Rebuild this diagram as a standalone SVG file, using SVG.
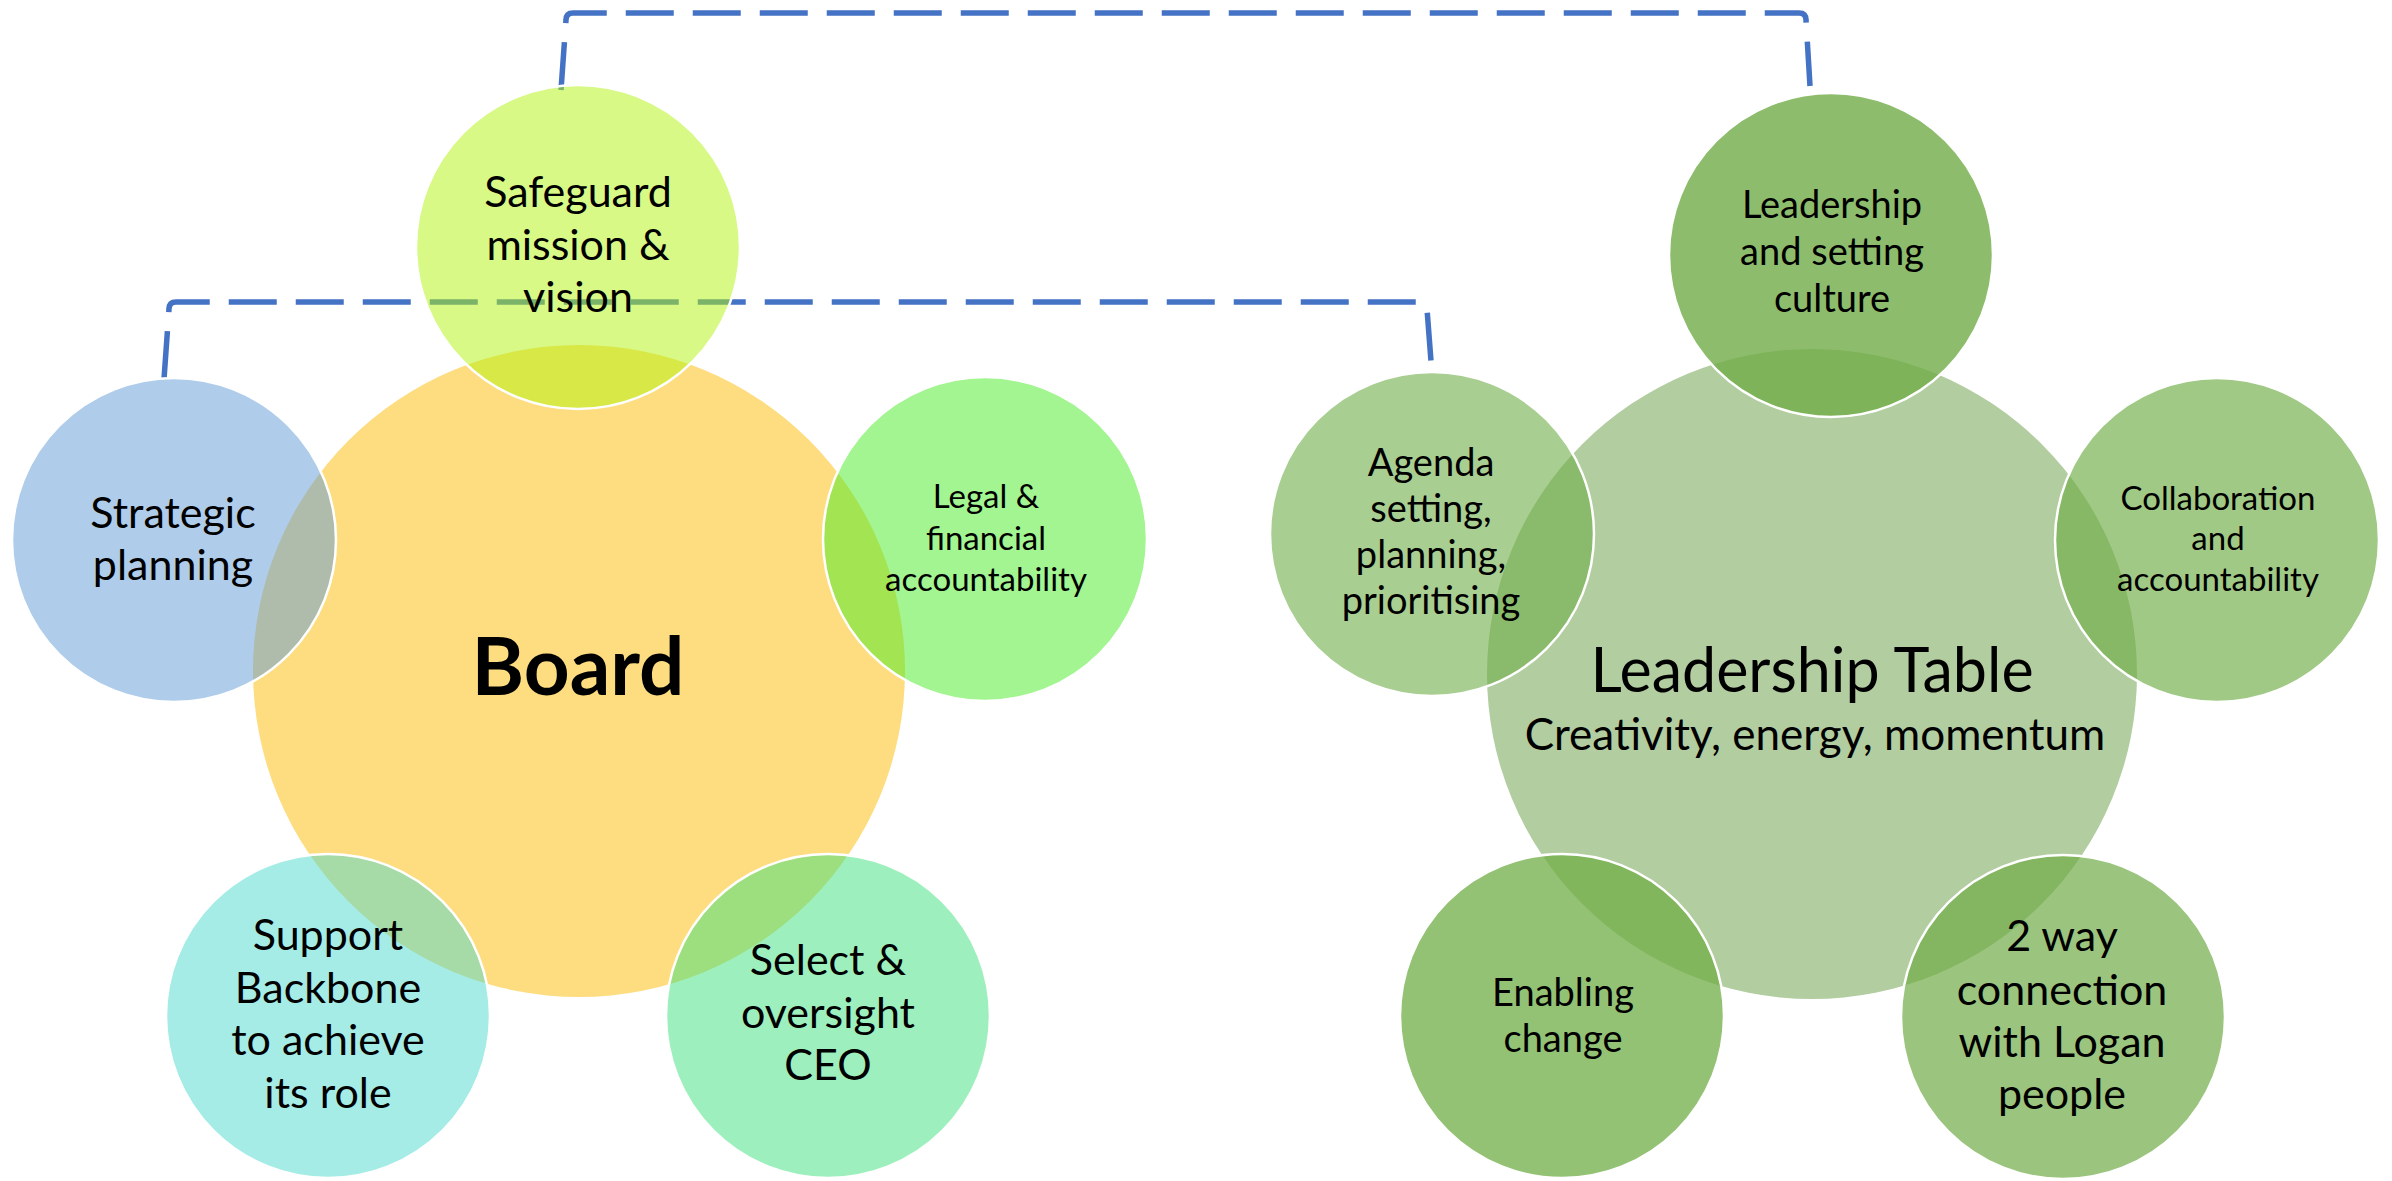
<svg xmlns="http://www.w3.org/2000/svg" width="2392" height="1181" viewBox="0 0 2392 1181">
<style>
.t{font-family:Lato,"Open Sans","Liberation Sans",sans-serif;fill:#000;text-anchor:middle}
.small{stroke:#fff;stroke-width:2.5}
.conn{fill:none;stroke:#4472C4;stroke-width:5.5;stroke-dasharray:48 19}
</style>
<rect width="2392" height="1181" fill="#fff"/>
<g id="connectors">
<path class="conn" d="M561 90 L566 20 Q566 13 573 13 L1799 13 Q1806 13 1806 20 L1810 86"/>
<path class="conn" d="M164 379 L169 309 Q169 302 176 302 L1420 302 Q1427 302 1427 309 L1432 374"/>
</g>
<g id="board">
<circle cx="579" cy="671" r="326" fill="#FEDC80"/>
<text class="t" x="578" y="695" font-size="80" font-weight="bold">Board</text>
</g>
<g id="safeguard">
<circle class="small" cx="578" cy="247" r="162" fill="#B1F30D" fill-opacity="0.5"/>
<text class="t" font-size="43"><tspan x="578" y="207">Safeguard</tspan><tspan x="578" y="260">mission &amp;</tspan><tspan x="578" y="312">vision</tspan></text>
</g>
<g id="strategic">
<circle class="small" cx="174" cy="540" r="162" fill="#5F9BD5" fill-opacity="0.5"/>
<text class="t" font-size="43"><tspan x="173" y="528">Strategic</tspan><tspan x="173" y="580">planning</tspan></text>
</g>
<g id="legal">
<circle class="small" cx="985" cy="539" r="162" fill="#45EB21" fill-opacity="0.5"/>
<text class="t" font-size="33"><tspan x="986" y="508">Legal &amp;</tspan><tspan x="986" y="550">financial</tspan><tspan x="986" y="591">accountability</tspan></text>
</g>
<g id="support">
<circle class="small" cx="328" cy="1016" r="162" fill="#4DD9CD" fill-opacity="0.5"/>
<text class="t" font-size="43"><tspan x="328" y="950">Support</tspan><tspan x="328" y="1003">Backbone</tspan><tspan x="328" y="1055">to achieve</tspan><tspan x="328" y="1108">its role</tspan></text>
</g>
<g id="select">
<circle class="small" cx="828" cy="1016" r="162" fill="#3BE17B" fill-opacity="0.5"/>
<text class="t" font-size="43"><tspan x="828" y="975">Select &amp;</tspan><tspan x="828" y="1028">oversight</tspan><tspan x="828" y="1080">CEO</tspan></text>
</g>
<g id="leadership-table">
<circle cx="1812" cy="674" r="325" fill="#B2CDA0"/>
<text class="t" x="1812" y="692" font-size="61">Leadership Table</text>
<text class="t" x="1815" y="750" font-size="44">Creativity, energy, momentum</text>
</g>
<g id="culture">
<circle class="small" cx="1831" cy="255" r="162" fill="#70AD47" fill-opacity="0.8"/>
<text class="t" font-size="38"><tspan x="1832" y="218">Leadership</tspan><tspan x="1832" y="265">and setting</tspan><tspan x="1832" y="312">culture</tspan></text>
</g>
<g id="agenda">
<circle class="small" cx="1432" cy="534" r="162" fill="#70AD47" fill-opacity="0.6"/>
<text class="t" font-size="38"><tspan x="1431" y="476">Agenda</tspan><tspan x="1431" y="522">setting,</tspan><tspan x="1431" y="568">planning,</tspan><tspan x="1431" y="614">prioritising</tspan></text>
</g>
<g id="collaboration">
<circle class="small" cx="2217" cy="540" r="162" fill="#70AD47" fill-opacity="0.66"/>
<text class="t" font-size="33"><tspan x="2218" y="510">Collaboration</tspan><tspan x="2218" y="550">and</tspan><tspan x="2218" y="591">accountability</tspan></text>
</g>
<g id="enabling">
<circle class="small" cx="1562" cy="1016" r="162" fill="#70AD47" fill-opacity="0.75"/>
<text class="t" font-size="38"><tspan x="1563" y="1006">Enabling</tspan><tspan x="1563" y="1052">change</tspan></text>
</g>
<g id="twoway">
<circle class="small" cx="2063" cy="1017" r="162" fill="#70AD47" fill-opacity="0.7"/>
<text class="t" font-size="43"><tspan x="2062" y="951">2 way</tspan><tspan x="2062" y="1005">connection</tspan><tspan x="2062" y="1057">with Logan</tspan><tspan x="2062" y="1109">people</tspan></text>
</g>
</svg>
